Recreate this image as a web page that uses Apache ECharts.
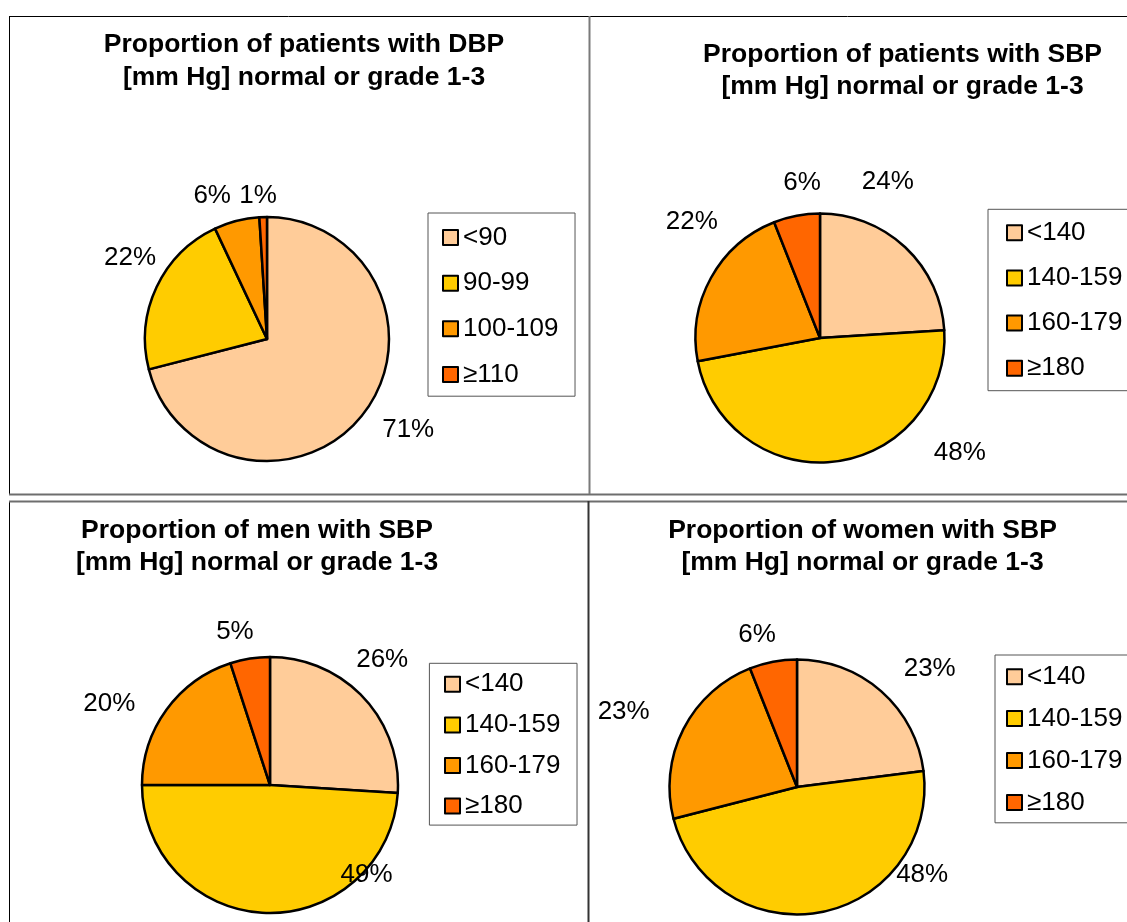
<!DOCTYPE html>
<html>
<head>
<meta charset="utf-8">
<script src="https://cdn.jsdelivr.net/npm/echarts@6/dist/echarts.min.js"></script>
<style>
  html, body { margin: 0; padding: 0; background: #ffffff; }
  #chart { width: 1127px; height: 922px; }
</style>
</head>
<body>
<div id="chart"></div>
<script>
// Blood pressure grade shares (percent of patients)
const dbpCategories = ['<90', '90-99', '100-109', '\u2265110'];
const sbpCategories = ['<140', '140-159', '160-179', '\u2265180'];

const dbpAllValues = [71, 22, 6, 1];
const sbpAllValues = [24, 48, 22, 6];
const sbpMenValues = [26, 49, 20, 5];
const sbpWomenValues = [23, 48, 23, 6];

const panelTitles = [
  'Proportion of patients with DBP\n[mm Hg] normal or grade 1-3',
  'Proportion of patients with SBP\n[mm Hg] normal or grade 1-3',
  'Proportion of men with SBP\n[mm Hg] normal or grade 1-3',
  'Proportion of women with SBP\n[mm Hg] normal or grade 1-3'
];

const sliceColors = ['#FFCC99', '#FFCC00', '#FF9900', '#FF6600'];
const FONT = "'Liberation Sans', Arial, Helvetica, sans-serif";

// Layout of each panel: pie geometry, title anchor, legend box
const panels = [
  {
    cats: dbpCategories, values: dbpAllValues, title: panelTitles[0],
    center: [267, 339], radius: 122,
    titlePos: [304, 28.5], titleLH: 33,
    legend: { left: 428, top: 213, gap: 19.6, pad: [11.6, 16.6, 8.8, 14] },
    // label placement: [angle shift from slice middle (deg), distance from centre (px)]
    labelPlace: [[-5, 168], [5.4, 159], [-6.6, 153], [-1.8, 143]]
  },
  {
    cats: sbpCategories, values: sbpAllValues, title: panelTitles[1],
    center: [820, 338], radius: 124.5,
    titlePos: [902.5, 39], titleLH: 32,
    legend: { left: 988, top: 209.3, gap: 19.2, pad: [10.4, 24, 9.4, 18] },
    labelPlace: [[-19.7, 170], [-43.4, 181], [13.4, 173], [4.2, 156]]
  },
  {
    cats: sbpCategories, values: sbpMenValues, title: panelTitles[2],
    center: [270, 785], radius: 128,
    titlePos: [257, 514.5], titleLH: 32,
    legend: { left: 429.4, top: 663.3, gap: 14.6, pad: [8, 16.6, 6, 14.6] },
    labelPlace: [[-4.9, 168], [-48.8, 132], [-9.2, 180], [-3.9, 157]]
  },
  {
    cats: sbpCategories, values: sbpWomenValues, title: panelTitles[3],
    center: [797, 787], radius: 127.5,
    titlePos: [862.5, 514.5], titleLH: 32,
    legend: { left: 995, top: 655, gap: 15.9, pad: [8.7, 24, 7.4, 11] },
    labelPlace: [[6.8, 178], [-44.1, 153], [-3.5, 189], [-3.9, 157]]
  }
];

// Middle angle of each slice, degrees clockwise from 12 o'clock
function midAngles(values) {
  const total = values.reduce((a, b) => a + b, 0);
  let acc = 0;
  return values.map(v => {
    const mid = (acc + v / 2) / total * 360;
    acc += v;
    return mid;
  });
}

const chart = echarts.init(document.getElementById('chart'), null, { renderer: 'canvas' });

const titles = panels.map(p => ({
  text: p.title,
  left: p.titlePos[0],
  top: p.titlePos[1],
  textAlign: 'center',
  padding: 0,
  textStyle: {
    fontFamily: FONT, fontSize: 26.5, fontWeight: 'bold',
    color: '#000000', lineHeight: p.titleLH
  }
}));

const legends = panels.map(p => ({
  orient: 'vertical',
  left: p.legend.left,
  top: p.legend.top,
  padding: p.legend.pad,
  itemGap: p.legend.gap,
  itemWidth: 15,
  itemHeight: 15,
  icon: 'rect',
  selectedMode: false,
  borderColor: '#555555',
  borderWidth: 1,
  backgroundColor: '#ffffff',
  data: p.cats,
  itemStyle: { borderColor: '#000000', borderWidth: 2 },
  textStyle: { fontFamily: FONT, fontSize: 26, color: '#000000', lineHeight: 26 }
}));

const series = panels.map((p, si) => {
  const mids = midAngles(p.values);
  return {
    type: 'pie',
    center: p.center,
    radius: p.radius,
    startAngle: 90,
    clockwise: true,
    avoidLabelOverlap: false,
    silent: true,
    itemStyle: { borderColor: '#000000', borderWidth: 2.5 },
    label: {
      show: true,
      position: 'outside',
      formatter: '{c}%',
      fontFamily: FONT,
      fontSize: 26,
      color: '#000000'
    },
    labelLine: { show: false },
    labelLayout: function (params) {
      const place = p.labelPlace[params.dataIndex];
      const ang = (mids[params.dataIndex] + place[0]) * Math.PI / 180;
      return {
        x: p.center[0] + place[1] * Math.sin(ang),
        y: p.center[1] - place[1] * Math.cos(ang),
        align: 'center',
        verticalAlign: 'middle'
      };
    },
    data: p.values.map((v, i) => ({
      name: p.cats[i],
      value: v,
      itemStyle: { color: sliceColors[i] }
    }))
  };
});

// Frame lines separating the four panels
function seg(x1, y1, x2, y2, color, w) {
  return {
    type: 'line', silent: true, z: 100,
    shape: { x1: x1, y1: y1, x2: x2, y2: y2 },
    style: { stroke: color, lineWidth: w }
  };
}
const frame = [
  seg(9, 16.5, 1127, 16.5, '#000000', 1),
  seg(9.5, 16, 9.5, 494, '#000000', 1),
  seg(9.5, 501, 9.5, 922, '#000000', 1),
  seg(9, 494.5, 1127, 494.5, '#6e6e6e', 2),
  seg(9, 501.5, 1127, 501.5, '#6e6e6e', 2),
  seg(589.5, 16, 589.5, 494, '#7a7a7a', 2),
  seg(588.5, 501, 588.5, 922, '#333333', 2)
];

chart.setOption({
  animation: false,
  backgroundColor: '#ffffff',
  title: titles,
  legend: legends,
  series: series,
  graphic: frame
});
</script>
</body>
</html>
